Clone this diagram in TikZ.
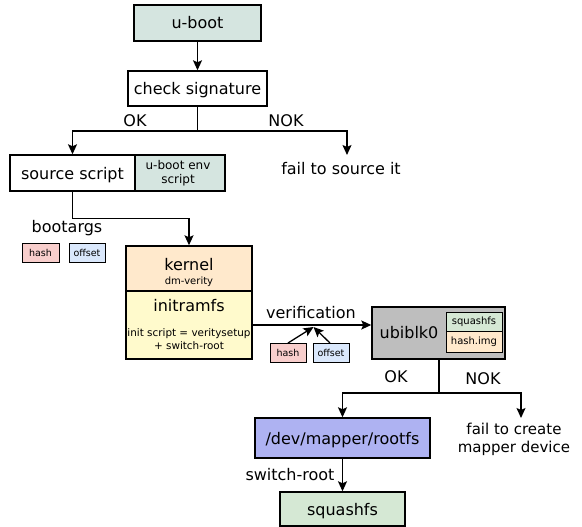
\documentclass[tikz,border=0pt]{standalone}
\usepackage{fontspec}
\setmainfont{DejaVu Sans}
\usetikzlibrary{arrows.meta}
\definecolor{envgreen}{HTML}{D5E5E0}
\definecolor{kernelorange}{HTML}{FFE9CC}
\definecolor{inityellow}{HTML}{FFFACC}
\definecolor{fsgreen}{HTML}{D5E8D4}
\definecolor{hashpink}{HTML}{F8CECC}
\definecolor{offsetblue}{HTML}{DAE8FC}
\definecolor{ubigray}{HTML}{BEBEBE}
\definecolor{mapperblue}{HTML}{AEB2F2}
\newcommand{\fs}[1]{\fontsize{#1}{\fpeval{#1*1.2}}\selectfont}
\begin{document}
\begin{tikzpicture}[x=1pt,y=-1pt,
  box/.style={draw=black, line width=1.4pt, inner sep=0pt, align=center, font=\fs{16}},
  onel/.style={text height=12pt, text depth=0pt},
  tag/.style={draw=black, line width=1pt, inner sep=0pt, minimum height=19pt, font=\fs{9.5}},
  conn/.style={line width=1.3pt, -{Stealth[length=10pt,width=9pt,inset=2pt]}},
  line/.style={line width=1.3pt},
  txt/.style={inner sep=0pt, font=\fs{16}, align=center}]
\useasboundingbox (0,0) rectangle (582,527);

% boot chain
\node[box, onel, fill=envgreen, minimum width=127pt, minimum height=36pt] (uboot) at (197.5,23) {u-boot};
\node[box, onel, fill=white, minimum width=139pt, minimum height=35pt] (chk) at (197.5,88.5) {check signature};
\draw[conn] (uboot) -- (chk);

\coordinate (b1) at (197.5,131);
\coordinate (f1) at (347,155);
\draw[line] (chk.south) -- (b1);
\node[box, onel, fill=white, minimum width=125pt, minimum height=36pt] (src) at (72.5,173) {source script};
\node[box, fill=envgreen, minimum width=90pt, minimum height=36pt] (env) at (180,173) {};
\node[txt, font=\fs{12}] (envT) at (178,173) {u-boot env\\script};
\draw[conn] (b1) -| (src.north);
\draw[conn] (b1) -| (f1);
\node[txt] (okA) at (135,121) {OK};
\node[txt] (nokA) at (286,121) {NOK};
\node[txt] (fail1) at (341,169) {fail to source it};

% bootargs
\node[txt] (bootargs) at (67,228) {bootargs};
\node[tag, fill=hashpink, minimum width=37pt] (hash1) at (40.5,252.5) {hash};
\node[tag, fill=offsetblue, minimum width=36pt] (off1) at (87,252.5) {offset};

% kernel and initramfs
\node[box, fill=kernelorange, minimum width=126pt, minimum height=45pt] (kernel) at (189,268.5) {};
\node[txt] (kernelT) at (189,265) {kernel};
\node[txt, font=\fs{10}] (dmv) at (189,282) {dm-verity};
\node[box, fill=inityellow, minimum width=126pt, minimum height=68pt] (initrd) at (189,325) {};
\node[txt] (initrdT) at (189,306) {initramfs};
\node[txt, font=\fs{10.4}, align=center] (initS) at (189,339) {init script = veritysetup\\+ switch-root};
\draw[conn] (src.south) -- ++(0,27) -| (kernel.north);

% verification
\node[box, fill=ubigray, minimum width=133pt, minimum height=52pt] (ubi) at (438.5,333) {};
\node[txt] (ubiT) at (409,333) {ubiblk0};
\node[tag, fill=fsgreen, minimum width=56pt, font=\fs{10}] (sqIn) at (474,322) {squashfs};
\node[tag, fill=kernelorange, minimum width=56pt, minimum height=21pt, font=\fs{10}] (hashImg) at (474,342) {hash.img};
\draw[conn] (initrd.east) -- (initrd.east -| ubi.west);
\node[txt] (verif) at (311,313) {verification};
\node[tag, fill=hashpink, minimum width=36pt] (hash2) at (288,353) {hash};
\node[tag, fill=offsetblue, minimum width=36pt] (off2) at (331,353) {offset};
\coordinate (vj) at (313.5,327);
\draw[conn] (hash2.north) -- (vj);
\draw[conn] (off2.north -| 330,0) -- (vj);

% result branch
\coordinate (b2) at (439,393);
\coordinate (f2) at (521,418);
\draw[line] (ubi.south -| b2) -- (b2);
\node[box, onel, fill=mapperblue, minimum width=175pt, minimum height=40pt] (mapper) at (342.5,438) {/dev/mapper/rootfs};
\draw[conn] (b2) -| (mapper.north);
\draw[conn] (b2) -| (f2);
\node[txt] (okB) at (396,377) {OK};
\node[txt] (nokB) at (483,379) {NOK};
\node[txt, font=\fs{15}, align=center] (fail2) at (514,439) {fail to create\\mapper device};

\node[box, onel, fill=fsgreen, minimum width=125pt, minimum height=34pt] (rootfs) at (342.5,509) {squashfs};
\draw[conn] (mapper.south) -- (rootfs.north);
\node[txt] (swr) at (290,475) {switch-root};
\end{tikzpicture}
\end{document}
